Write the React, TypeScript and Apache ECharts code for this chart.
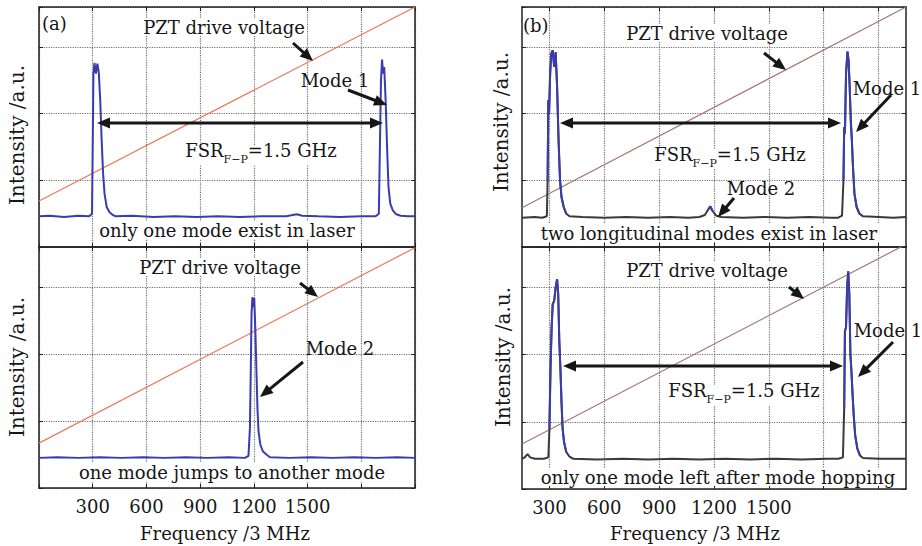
import React, { useEffect, useRef } from 'react';
import * as echarts from 'echarts';

// ---------- data ----------
const xLabelsA = [300, 600, 900, 1200, 1500];
const xTicksB = [300, 600, 900, 1200, 1500, 1800, 2100];
const xLabelsB = [300, 600, 900, 1200, 1500];

// PZT drive voltage ramps
const rampATop: [number, number][] = [[0, 0.69], [2100, 3.6]];
const rampABottom: [number, number][] = [[0, 0.67], [2100, 3.59]];
const rampBTop: [number, number][] = [[150, 0.59], [2250, 3.6]];
const rampBBottom: [number, number][] = [[150, 0.67], [2250, 3.64]];

// (a) top: one mode exists in laser
const specATop: [number, number][] = [
  [0, 0.46], [60, 0.47], [140, 0.45], [220, 0.47], [280, 0.46], [296, 0.5], [300, 1.5], [304, 2.6],
  [310, 2.76], [318, 2.6], [326, 2.75], [334, 2.62], [342, 2.2], [350, 1.6], [358, 1.1],
  [366, 0.8], [378, 0.6], [394, 0.52], [412, 0.48], [430, 0.46], [520, 0.47], [640, 0.45],
  [760, 0.46], [880, 0.45], [1000, 0.46], [1120, 0.45], [1240, 0.46], [1380, 0.46],
  [1440, 0.49], [1470, 0.47], [1560, 0.46], [1680, 0.45], [1800, 0.46], [1880, 0.46],
  [1898, 0.5], [1904, 1.5], [1910, 2.5], [1916, 2.81], [1922, 2.6], [1928, 2.7], [1936, 2.2],
  [1944, 1.5], [1952, 0.9], [1962, 0.65], [1976, 0.55], [1995, 0.49], [2020, 0.47],
  [2060, 0.46], [2100, 0.46]
];

// (a) bottom: one mode jumps to another mode
const specABottom: [number, number][] = [
  [0, 0.45], [100, 0.46], [220, 0.45], [340, 0.46], [460, 0.45], [580, 0.46], [700, 0.45],
  [820, 0.46], [940, 0.45], [1060, 0.46], [1150, 0.45], [1170, 0.48], [1178, 0.9],
  [1183, 1.8], [1187, 2.6], [1192, 2.85], [1197, 2.7], [1202, 2.84], [1208, 2.4],
  [1214, 1.8], [1220, 1.2], [1226, 0.85], [1236, 0.65], [1250, 0.55], [1270, 0.5],
  [1290, 0.46], [1400, 0.45], [1520, 0.46], [1640, 0.45], [1760, 0.46], [1880, 0.45],
  [2000, 0.46], [2100, 0.45]
];

// (b) top: two longitudinal modes exist in laser
const specBTop: [number, number][] = [
  [150, 0.44], [220, 0.45], [260, 0.44], [286, 0.46], [290, 1.0], [294, 2.2], [298, 2.0],
  [304, 2.6], [310, 2.9], [318, 2.95], [326, 2.7], [334, 2.92], [342, 2.4], [350, 1.6],
  [358, 1.0], [366, 0.75], [378, 0.6], [392, 0.5], [410, 0.46], [480, 0.45], [600, 0.44],
  [720, 0.45], [840, 0.44], [960, 0.45], [1060, 0.44], [1120, 0.45], [1150, 0.48],
  [1166, 0.55], [1180, 0.61], [1192, 0.54], [1212, 0.47], [1240, 0.45], [1360, 0.44],
  [1480, 0.45], [1600, 0.44], [1720, 0.45], [1840, 0.44], [1880, 0.44], [1900, 0.47],
  [1908, 1.0], [1912, 1.8], [1916, 1.7], [1922, 2.6], [1930, 2.93], [1936, 2.8],
  [1942, 2.4], [1948, 1.9], [1954, 1.6], [1960, 1.2], [1968, 0.8], [1980, 0.6],
  [1995, 0.5], [2015, 0.46], [2100, 0.45], [2180, 0.44], [2250, 0.45]
];

// (b) bottom: only one mode left after mode hopping
const specBBottom: [number, number][] = [
  [150, 0.45], [165, 0.47], [180, 0.52], [195, 0.47], [220, 0.45], [270, 0.45],
  [294, 0.47], [300, 0.9], [306, 1.8], [312, 2.4], [318, 2.75], [326, 2.8], [334, 3.0],
  [342, 3.12], [348, 2.9], [354, 2.2], [360, 1.8], [366, 1.3], [372, 0.9], [380, 0.7],
  [392, 0.55], [410, 0.48], [430, 0.45], [560, 0.44], [700, 0.45], [840, 0.44],
  [980, 0.45], [1120, 0.44], [1260, 0.45], [1400, 0.44], [1540, 0.45], [1680, 0.44],
  [1820, 0.45], [1880, 0.45], [1905, 0.47], [1912, 1.2], [1916, 2.35], [1922, 2.4],
  [1928, 3.0], [1934, 3.24], [1940, 2.9], [1946, 2.0], [1952, 1.73], [1958, 1.4],
  [1964, 1.1], [1972, 0.8], [1984, 0.6], [1998, 0.5], [2015, 0.46], [2100, 0.45],
  [2180, 0.45], [2250, 0.45]
];

// ---------- styling helpers ----------
const FONT = 'DejaVu Serif';
const INK = '#161616';
const BLUE = '#3a3cae';
const FS = 18;

function arrow(x1: number, y1: number, x2: number, y2: number, both = false) {
  const dx = x2 - x1, dy = y2 - y1;
  const len = Math.sqrt(dx * dx + dy * dy);
  const ux = dx / len, uy = dy / len;
  const px = -uy, py = ux;
  const L = 13, W = 5.5;
  const head = (tx: number, ty: number, dirx: number, diry: number) => ({
    type: 'polygon',
    shape: {
      points: [
        [tx, ty],
        [tx - L * dirx + W * px, ty - L * diry + W * py],
        [tx - L * dirx - W * px, ty - L * diry - W * py]
      ]
    },
    style: { fill: INK },
    z: 20
  });
  const children: any[] = [
    {
      type: 'line',
      shape: {
        x1: both ? x1 + ux * L * 0.8 : x1,
        y1: both ? y1 + uy * L * 0.8 : y1,
        x2: x2 - ux * L * 0.8,
        y2: y2 - uy * L * 0.8
      },
      style: { stroke: INK, lineWidth: 3 },
      z: 20
    },
    head(x2, y2, ux, uy)
  ];
  if (both) children.push(head(x1, y1, -ux, -uy));
  return { type: 'group', children };
}

function label(text: string, x: number, y: number, size = FS, bg = true, align = 'center') {
  const style: any = {
    text,
    fill: INK,
    fontFamily: FONT,
    fontSize: size,
    align,
    verticalAlign: 'middle'
  };
  if (bg) {
    style.backgroundColor = '#fff';
    style.padding = [0, 2, 0, 2];
  }
  return { type: 'text', x, y, z: 15, style };
}

function fsr(x: number, y: number) {
  return {
    type: 'text',
    x,
    y,
    z: 15,
    style: {
      text: '{a|FSR}{s|F−P}{a|=1.5 GHz}',
      align: 'center',
      verticalAlign: 'middle',
      backgroundColor: '#fff',
      rich: {
        a: { fontFamily: FONT, fontSize: FS, fill: INK, lineHeight: 20, verticalAlign: 'bottom', padding: [0, 0, 6, 0] },
        s: { fontFamily: FONT, fontSize: 11, fill: INK, lineHeight: 12, verticalAlign: 'bottom' }
      }
    }
  };
}

function yName(x: number, y: number) {
  return {
    type: 'text',
    x,
    y,
    rotation: Math.PI / 2,
    z: 15,
    style: {
      text: 'Intensity /a.u.',
      fill: INK,
      fontFamily: FONT,
      fontSize: 20,
      align: 'center',
      verticalAlign: 'middle'
    }
  };
}

export default function App() {
  const ref = useRef<HTMLDivElement>(null);

  useEffect(() => {
    document.body.style.margin = '0';
    if (!ref.current) return;
    const chart = echarts.init(ref.current, undefined, { renderer: 'svg' });

    const grids = [
      { left: 39, top: 7, width: 376, height: 240 },
      { left: 39, top: 247, width: 376, height: 241 },
      { left: 522, top: 7, width: 384, height: 240 },
      { left: 522, top: 247, width: 384, height: 242 }
    ];

    const frameLine = { show: true, onZero: false, lineStyle: { color: '#222', width: 1.5 } };
    const tick = { show: true, inside: true, length: 4, lineStyle: { color: '#222', width: 1 } };
    const dottedStyle = { type: 'dotted' as const, color: '#6f6f6f', width: 1.2 };
    const dotted = { show: true, lineStyle: dottedStyle };

    const xAxes: any[] = [];
    const yAxes: any[] = [];
    grids.forEach((_, k) => {
      const isB = k >= 2;
      const isBottom = k === 1 || k === 3;
      const base: any = isB
        ? { min: 150, max: 2250, interval: 150 }
        : { min: 0, max: 2100, interval: 300 };
      const labels = isB ? xLabelsB : xLabelsA;
      xAxes.push({
        gridIndex: k,
        type: 'value',
        position: 'bottom',
        ...base,
        axisLine: frameLine,
        axisTick: isB ? { show: false } : tick,
        axisLabel: {
          show: isBottom,
          margin: 9,
          color: INK,
          fontFamily: FONT,
          fontSize: 18,
          formatter: (v: number) => (labels.indexOf(v) >= 0 ? String(v) : '')
        },
        splitLine: isB ? { show: false } : dotted
      });
      xAxes.push({
        gridIndex: k,
        type: 'value',
        position: 'top',
        ...base,
        axisLine: frameLine,
        axisTick: isB ? { show: false } : tick,
        axisLabel: { show: false },
        splitLine: { show: false }
      });
      yAxes.push({
        gridIndex: k,
        type: 'value',
        position: 'left',
        min: 0,
        max: 3.6,
        interval: 1,
        axisLine: frameLine,
        axisTick: tick,
        axisLabel: { show: false },
        splitLine: dotted
      });
      yAxes.push({
        gridIndex: k,
        type: 'value',
        position: 'right',
        min: 0,
        max: 3.6,
        interval: 1,
        axisLine: frameLine,
        axisTick: tick,
        axisLabel: { show: false },
        splitLine: { show: false }
      });
    });

    // grid lines + inside ticks for the (b) panels, at multiples of 300
    const bMarks: any[] = [];
    xTicksB.forEach((v) => {
      bMarks.push({ xAxis: v, lineStyle: dottedStyle });
      bMarks.push([
        { coord: [v, 0], lineStyle: { type: 'solid', color: '#222', width: 1 } },
        { coord: [v, 0.065] }
      ]);
      bMarks.push([
        { coord: [v, 3.6], lineStyle: { type: 'solid', color: '#222', width: 1 } },
        { coord: [v, 3.535] }
      ]);
    });

    const ramps = [rampATop, rampABottom, rampBTop, rampBBottom];
    const specs = [specATop, specABottom, specBTop, specBBottom];
    const rampColors = ['#e8795c', '#e8795c', '#a27a70', '#a27a70'];
    const series: any[] = [];
    ramps.forEach((d, k) => {
      const s: any = {
        type: 'line',
        xAxisIndex: 2 * k,
        yAxisIndex: 2 * k,
        data: d,
        showSymbol: false,
        symbol: 'none',
        clip: true,
        lineStyle: { color: rampColors[k], width: 1.2 },
        z: 3
      };
      if (k >= 2) {
        s.markLine = {
          silent: true,
          symbol: ['none', 'none'],
          label: { show: false },
          lineStyle: dottedStyle,
          data: bMarks,
          z: 1
        };
      }
      series.push(s);
    });
    specs.forEach((d, k) => {
      const isB = k >= 2;
      series.push({
        type: 'line',
        xAxisIndex: 2 * k,
        yAxisIndex: 2 * k,
        data: d,
        showSymbol: false,
        symbol: 'none',
        clip: true,
        lineStyle: { color: isB ? '#3a3a3a' : BLUE, width: 2 },
        z: 4
      });
      if (isB) {
        // blue trace over the peak portions (baseline stays dark)
        series.push({
          type: 'line',
          xAxisIndex: 2 * k,
          yAxisIndex: 2 * k,
          data: d.map(([x, y]) => [x, y >= 0.5 ? y : null]),
          connectNulls: false,
          showSymbol: false,
          symbol: 'none',
          clip: true,
          lineStyle: { color: BLUE, width: 2 },
          z: 5
        });
      }
    });

    const graphic: any[] = [
      // (a) top
      label('(a)', 42, 23, FS, false, 'left'),
      label('PZT drive voltage', 224, 27),
      arrow(293, 43, 313, 61),
      label('Mode 1', 335, 80, FS, false),
      arrow(348, 90, 387, 105),
      arrow(97, 123, 383, 123, true),
      fsr(261, 155),
      label('only one mode exist in laser', 227, 230),
      // (a) bottom
      label('PZT drive voltage', 220, 267),
      arrow(300, 283, 318, 297),
      label('Mode 2', 340, 348, FS, false),
      arrow(303, 362, 260, 397),
      label('one mode jumps to another mode', 232, 472),
      // (b) top
      label('(b)', 523, 25, FS, false, 'left'),
      label('PZT drive voltage', 707, 33),
      arrow(764, 53, 786, 70),
      label('Mode 1', 887, 88, FS, false),
      arrow(891, 95, 856, 132),
      arrow(560, 123, 841, 123, true),
      fsr(730, 159),
      label('Mode 2', 761, 188, FS, false),
      arrow(734, 198, 718, 217),
      label('two longitudinal modes exist in laser', 709, 233),
      // (b) bottom
      label('PZT drive voltage', 707, 270),
      arrow(789, 287, 804, 299),
      label('Mode 1', 888, 330, FS, false),
      arrow(893, 342, 858, 377),
      arrow(563, 366, 843, 366, true),
      fsr(744, 395),
      label('only one mode left after mode hopping', 718, 477),
      // axis titles
      label('Frequency /3 MHz', 225, 533, FS, false),
      label('Frequency /3 MHz', 695, 533, FS, false),
      yName(17, 135),
      yName(17, 367),
      yName(501, 122),
      yName(503, 357)
    ];

    chart.setOption({
      animation: false,
      backgroundColor: '#fff',
      grid: grids,
      xAxis: xAxes,
      yAxis: yAxes,
      series,
      graphic
    });

    return () => chart.dispose();
  }, []);

  return <div ref={ref} style={{ width: 922, height: 546 }} />;
}
